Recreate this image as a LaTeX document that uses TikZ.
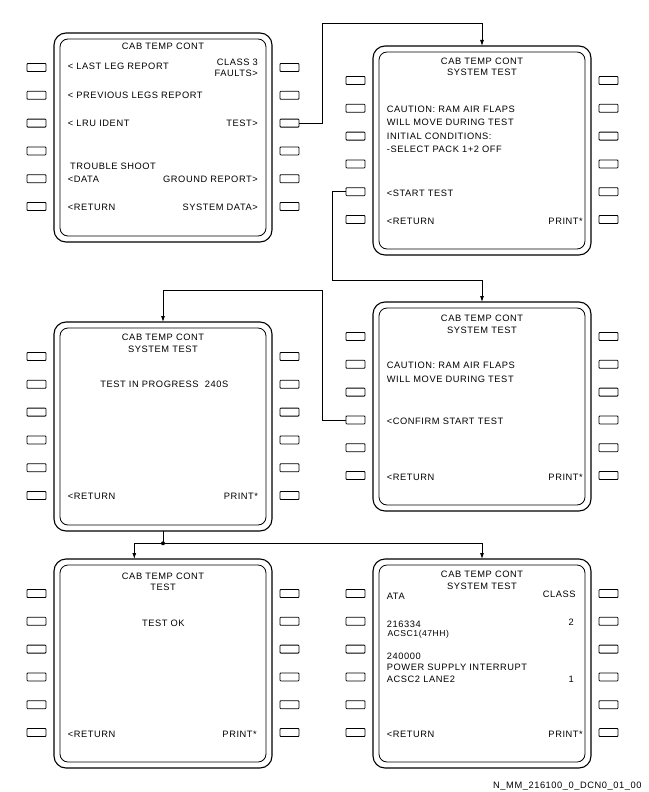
\documentclass[tikz,border=0pt]{standalone}
\usepackage{fontspec}
\setmainfont{Liberation Sans}[LetterSpace=6]
\usetikzlibrary{calc,arrows.meta}

\tikzset{
  panelbox/.style={draw, line width=1.1pt, rounded corners=12pt, minimum width=218pt,
    minimum height=209pt, inner sep=0pt, outer sep=0pt},
  innerframe/.style={draw, line width=0.8pt, rounded corners=8pt},
  softkey/.style={draw, line width=0.8pt, rounded corners=0.8pt, minimum width=19pt,
    minimum height=8pt, inner sep=0pt, outer sep=0pt},
  lbl/.style={inner sep=0pt, font=\fontsize{9.3}{11}\selectfont},
  lt/.style={lbl, anchor=base west},
  rt/.style={lbl, anchor=base east},
  ct/.style={lbl, anchor=base},
  link/.style={draw, line width=0.8pt},
  tip/.style={-{Latex[length=6pt,width=4pt]}},
}

% MCDU page: #1 name, #2 left x, #3 top y (frame, inner bezel, 6+6 line select keys)
\newcommand\mcdupage[3]{%
  \node[panelbox] (#1) at (#2+109,#3+104.5) {};
  \draw[innerframe] ($(#1.north west)+(6,6)$) rectangle ($(#1.south east)+(-6,-6)$);
  \foreach \k in {1,...,6}{
    \node[softkey] (#1L\k) at (#2-17.5,#3+34.5+27.8*\k-27.8) {};
    \node[softkey] (#1R\k) at (#2+235.5,#3+34.5+27.8*\k-27.8) {};
  }%
}

\begin{document}
\begin{tikzpicture}[x=1pt,y=-1pt]
\useasboundingbox (0,0) rectangle (648,792);

% ---- main menu
\mcdupage{p1}{54}{33}
\node[ct] (a0) at (163,50) {CAB TEMP CONT};
\node[lt] (a1) at (67.7,69.3) {< LAST LEG REPORT};
\node[rt] (a2) at (258,65.6) {CLASS 3};
\node[rt] (a3) at (258,76.6) {FAULTS>};
\node[lt] (a4) at (67.7,98.3) {< PREVIOUS LEGS REPORT};
\node[lt] (a5) at (67.7,126.6) {< LRU IDENT};
\node[rt] (a6) at (258,126.6) {TEST>};
\node[lt] (a7) at (70,169) {TROUBLE SHOOT};
\node[lt] (a8) at (67.7,182.6) {<DATA};
\node[rt] (a9) at (258,182.6) {GROUND REPORT>};
\node[lt] (a10) at (67.7,210.6) {<RETURN};
\node[rt] (a11) at (258,210.6) {SYSTEM DATA>};

% ---- system test, start page
\mcdupage{p2}{373}{46}
\node[ct] (b0) at (482,65) {CAB TEMP CONT};
\node[ct] (b1) at (482,75.6) {SYSTEM TEST};
\node[lt] (b2) at (386.7,112.6) {CAUTION: RAM AIR FLAPS};
\node[lt] (b3) at (386.7,125.6) {WILL MOVE DURING TEST};
\node[lt] (b4) at (386.7,139) {INITIAL CONDITIONS:};
\node[lt] (b5) at (386.7,152.3) {-SELECT PACK 1+2 OFF};
\node[lt] (b6) at (386.7,196) {<START TEST};
\node[lt] (b7) at (386.7,224.3) {<RETURN};
\node[rt] (b8) at (583,224.3) {PRINT*};

% ---- system test, confirmation page
\mcdupage{p4}{373}{302}
\node[ct] (d0) at (482,321.6) {CAB TEMP CONT};
\node[ct] (d1) at (482,333.3) {SYSTEM TEST};
\node[lt] (d2) at (386.7,368.3) {CAUTION: RAM AIR FLAPS};
\node[lt] (d3) at (386.7,382.3) {WILL MOVE DURING TEST};
\node[lt] (d4) at (386.7,424.3) {<CONFIRM START TEST};
\node[lt] (d5) at (386.7,480) {<RETURN};
\node[rt] (d6) at (583,480) {PRINT*};

% ---- test in progress
\mcdupage{p3}{54}{322}
\node[ct] (c0) at (163,340) {CAB TEMP CONT};
\node[ct] (c1) at (163,352.3) {SYSTEM TEST};
\node[ct] (c2) at (164.3,387.6) {TEST IN PROGRESS\ \ 240S};
\node[lt] (c3) at (67.7,499.3) {<RETURN};
\node[rt] (c4) at (258.3,499.3) {PRINT*};

% ---- result: no fault
\mcdupage{p5}{54}{559}
\node[ct] (e0) at (163,579) {CAB TEMP CONT};
\node[ct] (e1) at (163,590) {TEST};
\node[ct] (e2) at (163.3,626) {TEST OK};
\node[lt] (e3) at (67.7,737.3) {<RETURN};
\node[rt] (e4) at (257,737.3) {PRINT*};

% ---- result: fault list
\mcdupage{p6}{373}{559}
\node[ct] (f0) at (482,577.3) {CAB TEMP CONT};
\node[ct] (f1) at (482,589.3) {SYSTEM TEST};
\node[lt] (f2) at (386.7,599.3) {ATA};
\node[rt] (f3) at (575.7,597.3) {CLASS};
\node[lt] (f4) at (386.7,627.3) {216334};
\node[rt] (f5) at (574,625) {2};
\node[lt,font=\fontsize{8.6}{10}\selectfont] (f6) at (387.3,636.6) {ACSC1(47HH)};
\node[lt] (f7) at (386.7,659.3) {240000};
\node[lt] (f8) at (386.7,670) {POWER SUPPLY INTERRUPT};
\node[lt] (f9) at (386.7,682.6) {ACSC2 LANE2};
\node[rt] (f10) at (574,682.6) {1};
\node[lt] (f11) at (386.7,737.3) {<RETURN};
\node[rt] (f12) at (583,737.3) {PRINT*};

% ---- navigation links
\coordinate (k1) at (322,23);
\draw[link,tip] (p1R3.east) -| (k1) -| (p2.north);
\coordinate (k2) at (332.5,280.5);
\draw[link,tip] (p2L5.west) -| (k2) -| (p4.north);
\coordinate (k3) at (322.5,290.5);
\draw[link,tip] (p4L4.west) -| (k3) -| (p3.north);
\coordinate (k4) at (163,543.3);
\coordinate (k5) at ($(p5.north)+(-28.7,0)$);
\draw[link] (p3.south) -- (k4);
\draw[link,tip] (k4) -| (k5);
\draw[link,tip] (k4) -| (p6.north);
\fill (k4) circle (2pt);

% ---- drawing reference
\node[rt] (ref) at (641.7,788.3) {N\_MM\_216100\_0\_DCN0\_01\_00};
\end{tikzpicture}
\end{document}
